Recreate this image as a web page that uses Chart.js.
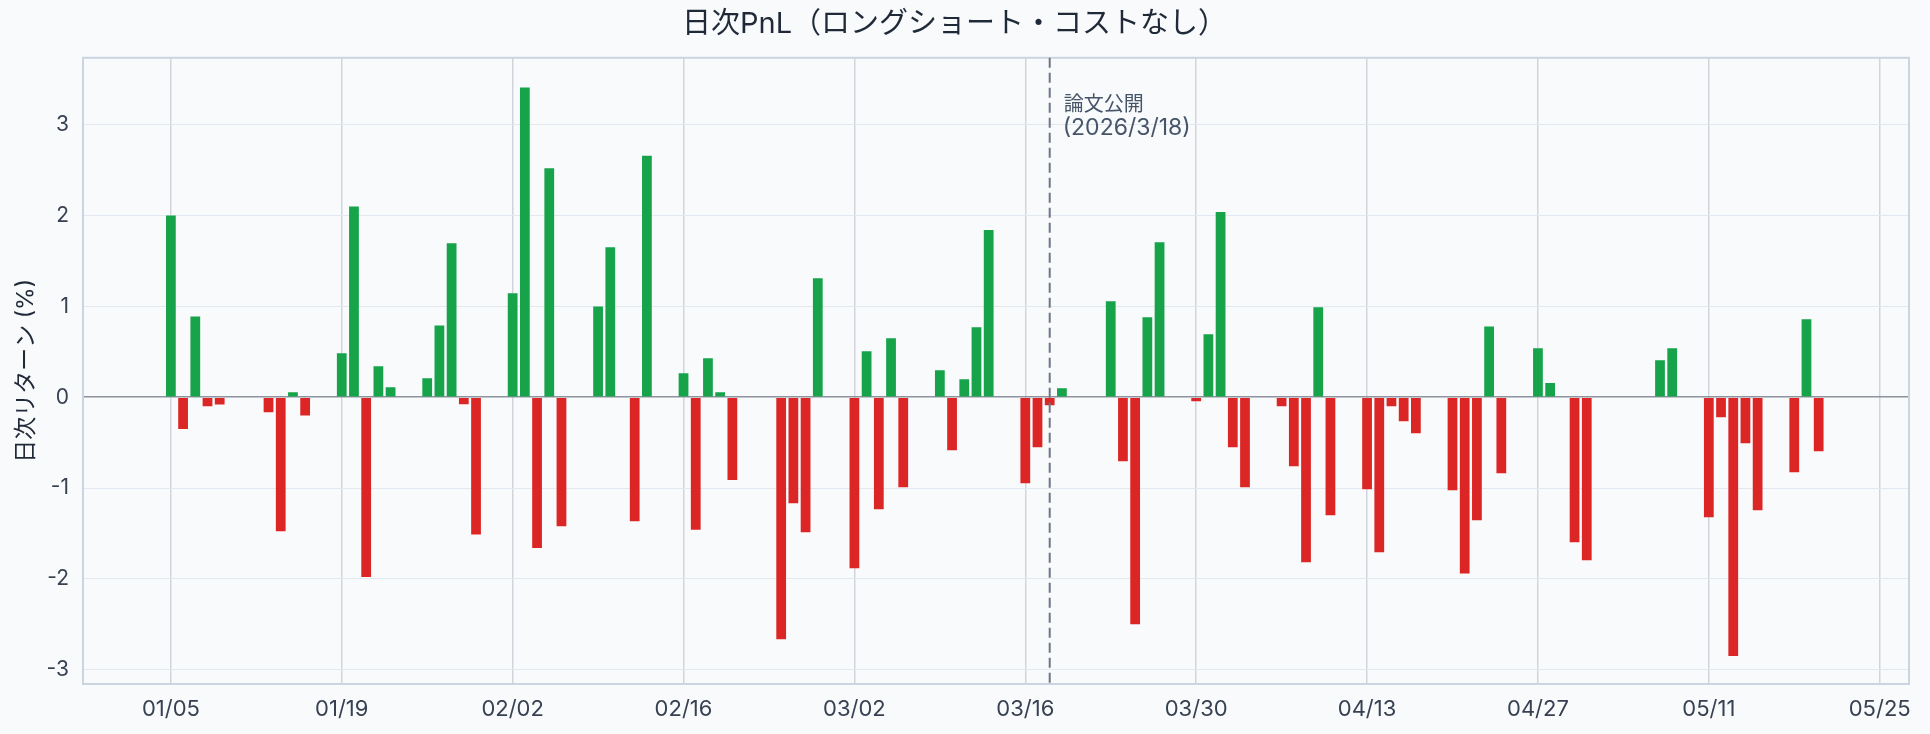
<!DOCTYPE html>
<html lang="ja">
<head>
<meta charset="utf-8">
<title>日次PnL</title>
<script src="https://cdn.jsdelivr.net/npm/chart.js@4.4.1/dist/chart.umd.min.js"></script>
<style>
  html, body { margin: 0; padding: 0; background: #f8fafc; }
  #wrap { width: 1930px; height: 734px; }
</style>
</head>
<body>
<div id="wrap"><canvas id="pnlChart"></canvas></div>
<script>
// 営業日（2026年、土日・祝日は無し）
var year = 2026;
var dates = [
  '01/05', '01/06', '01/07', '01/08', '01/09',
  '01/13', '01/14', '01/15', '01/16',
  '01/19', '01/20', '01/21', '01/22', '01/23',
  '01/26', '01/27', '01/28', '01/29', '01/30',
  '02/02', '02/03', '02/04', '02/05', '02/06',
  '02/09', '02/10', '02/12', '02/13',
  '02/16', '02/17', '02/18', '02/19', '02/20',
  '02/24', '02/25', '02/26', '02/27',
  '03/02', '03/03', '03/04', '03/05', '03/06',
  '03/09', '03/10', '03/11', '03/12', '03/13',
  '03/16', '03/17', '03/18', '03/19',
  '03/23', '03/24', '03/25', '03/26', '03/27',
  '03/30', '03/31', '04/01', '04/02', '04/03',
  '04/06', '04/07', '04/08', '04/09', '04/10',
  '04/13', '04/14', '04/15', '04/16', '04/17',
  '04/20', '04/21', '04/22', '04/23', '04/24',
  '04/27', '04/28', '04/30', '05/01',
  '05/07', '05/08',
  '05/11', '05/12', '05/13', '05/14', '05/15',
  '05/18', '05/19', '05/20'
];

// 日次リターン (%)
var pnl = [
  2.00, -0.35, 0.89, -0.10, -0.08,
  -0.165, -1.475, 0.055, -0.20,
  0.485, 2.10, -1.98, 0.34, 0.11,
  0.21, 0.79, 1.695, -0.077, -1.51,
  1.145, 3.41, -1.66, 2.52, -1.42,
  1.00, 1.65, -1.365, 2.66,
  0.264, -1.46, 0.43, 0.055, -0.91,
  -2.665, -1.167, -1.486, 1.31,
  -1.883, 0.506, -1.233, 0.65, -0.99,
  0.297, -0.583, 0.198, 0.771, 1.84,
  -0.947, -0.55, -0.088, 0.099,
  1.057, -0.705, -2.50, 0.88, 1.706,
  -0.044, 0.694, 2.04, -0.55, -0.99,
  -0.099, -0.76, -1.817, 0.99, -1.30,
  -1.013, -1.706, -0.099, -0.264, -0.396,
  -1.024, -1.94, -1.354, 0.78, -0.837,
  0.54, 0.158, -1.596, -1.795,
  0.407, 0.54,
  -1.321, -0.22, -2.85, -0.507, -1.244,
  -0.826, 0.859, -0.595
];

var tickDates = ['01/05', '01/19', '02/02', '02/16', '03/02', '03/16', '03/30', '04/13', '04/27', '05/11', '05/25'];
var yTicks = [-3, -2, -1, 0, 1, 2, 3];
var paperDate = '03/18';
var paperLabel = ['論文公開', '(2026/3/18)'];

var baseDay = Date.UTC(year, 0, 5);
function dayIndex(md) {
  var p = md.split('/');
  return Math.round((Date.UTC(year, p[0] - 1, +p[1]) - baseDay) / 86400000);
}
function fmtDay(v) {
  var d = new Date(baseDay + v * 86400000);
  return String(d.getUTCMonth() + 1).padStart(2, '0') + '/' + String(d.getUTCDate()).padStart(2, '0');
}

var FONT = 'Inter, "Noto Sans CJK JP", sans-serif';
Chart.defaults.font.family = FONT;

// plot frame on all four sides
var framePlugin = {
  id: 'frame',
  beforeDatasetsDraw: function (chart) {
    var a = chart.chartArea, ctx = chart.ctx;
    ctx.save();
    ctx.strokeStyle = '#cbd5e1';
    ctx.lineWidth = 2;
    ctx.strokeRect(a.left, a.top, a.right - a.left, a.bottom - a.top);
    ctx.restore();
  }
};

// 論文公開日の縦線
var paperLine = {
  id: 'paperLine',
  afterDatasetsDraw: function (chart) {
    var a = chart.chartArea, ctx = chart.ctx;
    var x = chart.scales.x.getPixelForValue(dayIndex(paperDate));
    ctx.save();
    ctx.strokeStyle = '#6b7686';
    ctx.lineWidth = 2;
    ctx.setLineDash([10, 5]);
    ctx.beginPath();
    ctx.moveTo(x, a.top);
    ctx.lineTo(x, a.bottom);
    ctx.stroke();
    ctx.setLineDash([]);
    ctx.fillStyle = '#475569';
    ctx.textBaseline = 'middle';
    ctx.font = '20px ' + FONT;
    ctx.fillText(paperLabel[0], x + 14, a.top + 47);
    ctx.font = '23px ' + FONT;
    ctx.fillText(paperLabel[1], x + 13, a.top + 70);
    ctx.restore();
  }
};

var ctx = document.getElementById('pnlChart').getContext('2d');
new Chart(ctx, {
  type: 'bar',
  data: {
    datasets: [{
      data: dates.map(function (d, i) { return { x: dayIndex(d), y: pnl[i] }; }),
      backgroundColor: pnl.map(function (v) { return v >= 0 ? '#16a34a' : '#dc2626'; }),
      borderWidth: 0,
      barPercentage: 0.8,
      categoryPercentage: 1.0
    }]
  },
  options: {
    responsive: true,
    maintainAspectRatio: false,
    animation: false,
    layout: { padding: { left: 0, right: 21, top: 0, bottom: 0 } },
    plugins: {
      legend: { display: false },
      tooltip: { enabled: false },
      title: {
        display: true,
        text: '日次PnL（ロングショート・コストなし）',
        color: '#1f2937',
        font: { size: 29, weight: 'normal' },
        padding: { top: 7, bottom: 16 }
      }
    },
    scales: {
      x: {
        type: 'linear',
        min: -7.2,   // ~12/29
        max: 142.4,  // ~05/27
        offset: false,
        border: { display: false },
        grid: { offset: false, color: '#d1d5db', lineWidth: 1.5, drawTicks: false },
        afterBuildTicks: function (s) {
          s.ticks = tickDates.map(function (d) { return { value: dayIndex(d) }; });
        },
        afterFit: function (s) { s.height = 50; },
        ticks: {
          autoSkip: false,
          maxRotation: 0,
          padding: 12,
          color: '#374151',
          font: { size: 22 },
          callback: function (v) { return fmtDay(v); }
        }
      },
      y: {
        min: -3.157,
        max: 3.737,
        border: { display: false },
        grid: {
          drawTicks: false,
          color: function (c) { return c.tick.value === 0 ? '#8e939e' : '#e2e8f0'; },
          lineWidth: function (c) { return c.tick.value === 0 ? 1.5 : 1; }
        },
        afterBuildTicks: function (s) {
          s.ticks = yTicks.map(function (v) { return { value: v }; });
        },
        afterFit: function (s) { s.width = 83; },
        ticks: { padding: 14, color: '#374151', font: { size: 21 } },
        title: {
          display: true,
          text: '日次リターン (%)',
          color: '#1f2937',
          font: { size: 23 },
          padding: { top: 12, bottom: 0 }
        }
      }
    }
  },
  plugins: [framePlugin, paperLine]
});
</script>
</body>
</html>
